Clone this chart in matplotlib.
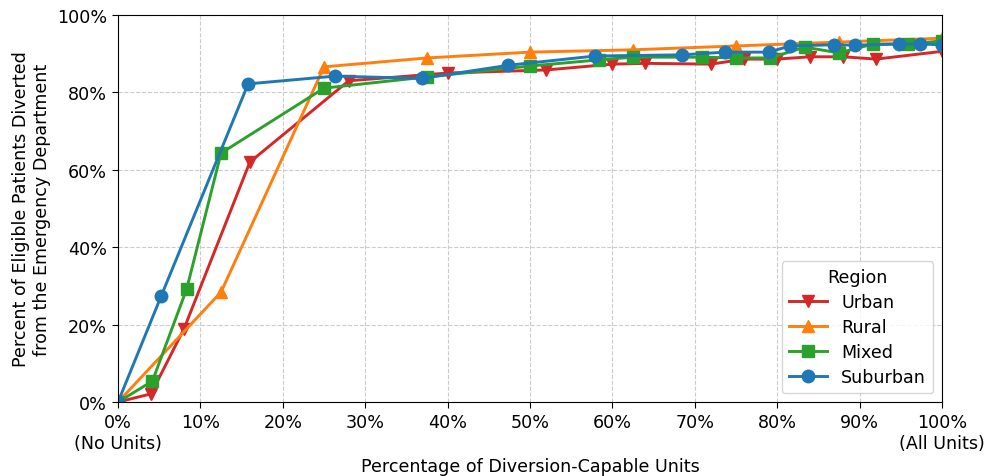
import matplotlib.pyplot as plt
from matplotlib.ticker import PercentFormatter

# Percent of units (x) vs percent of patients diverted (y), per region
urban_x = [0, 4, 8, 16, 28, 40, 52, 60, 64, 72, 76, 80, 84, 88, 92, 100]
urban_y = [0, 2.1, 18.9, 62.0, 83.0, 85.0, 85.8, 87.3, 87.5, 87.3, 88.6, 88.6,
           89.2, 89.2, 88.6, 90.6]

rural_x = [0, 12.5, 25, 37.5, 50, 62.5, 75, 87.5, 100]
rural_y = [0, 28.4, 86.6, 88.9, 90.4, 91.0, 92.0, 93.0, 94.0]

mixed_x = [0, 4.17, 8.33, 12.5, 25, 37.5, 50, 58.33, 62.5, 70.83, 75, 79.17,
           83.33, 87.5, 91.67, 95.83, 100]
mixed_y = [0, 5.4, 29.2, 64.3, 81.1, 84.0, 86.8, 88.4, 89.1, 89.1, 88.9, 88.9,
           91.7, 90.2, 92.5, 92.5, 93.3]

suburban_x = [0, 5.26, 15.79, 26.32, 36.84, 47.37, 57.89, 68.42, 73.68, 78.95,
              81.58, 86.84, 89.47, 94.74, 97.37, 100]
suburban_y = [0, 27.5, 82.2, 84.2, 83.6, 87.0, 89.4, 89.7, 90.4, 90.4, 92.0,
              92.3, 92.2, 92.5, 92.5, 92.3]

x_ticks = [0, 10, 20, 30, 40, 50, 60, 70, 80, 90, 100]
x_ticklabels = ['0%\n(No Units)', '10%', '20%', '30%', '40%', '50%', '60%',
                '70%', '80%', '90%', '100%\n(All Units)']

FS = 12.6

fig = plt.figure(figsize=(9.87, 4.77), dpi=100)
ax = fig.add_axes([0.1196, 0.1551, 0.8348, 0.8114])

ax.plot(urban_x, urban_y, c='#d62728', marker='v', ms=9, lw=2.1, label='Urban')
ax.plot(rural_x, rural_y, c='#ff7f0e', marker='^', ms=9, lw=2.1, label='Rural')
ax.plot(mixed_x, mixed_y, c='#2ca02c', marker='s', ms=8.5, lw=2.1, label='Mixed')
ax.plot(suburban_x, suburban_y, c='#1f77b4', marker='o', ms=9, lw=2.1, label='Suburban')

ax.set_xlim(0, 100)
ax.set_ylim(0, 100)
ax.set_xticks(x_ticks)
ax.set_xticklabels(x_ticklabels, fontsize=FS)
ax.set_yticks([0, 20, 40, 60, 80, 100])
ax.yaxis.set_major_formatter(PercentFormatter(decimals=0))
ax.tick_params(axis='y', labelsize=FS)
ax.tick_params(length=4.5)
ax.grid(True, ls='--', c='#cccccc', lw=0.8)
ax.set_axisbelow(True)

ax.set_xlabel('Percentage of Diversion-Capable Units', fontsize=FS)
ax.set_ylabel('Percent of Eligible Patients Diverted\nfrom the Emergency Department', fontsize=FS)

ax.legend(title='Region', loc='lower right', fontsize=FS, title_fontsize=FS,
          handlelength=2.2, labelspacing=0.4)

fig.savefig('out.png', dpi=100)
